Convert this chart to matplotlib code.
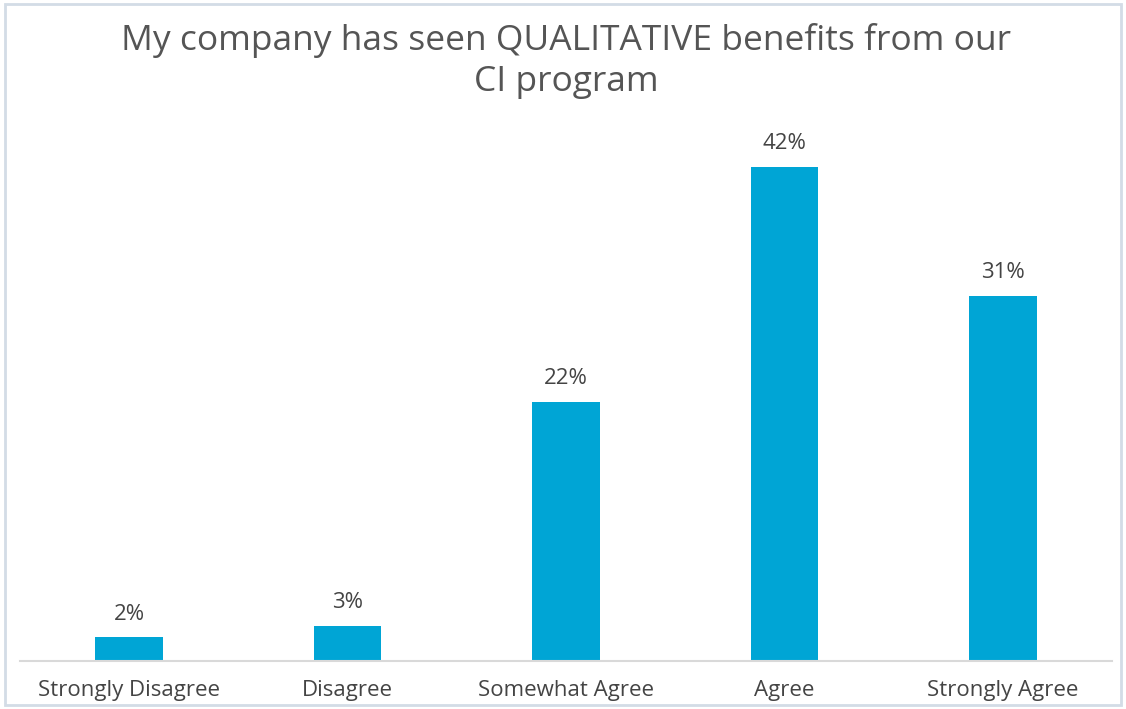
import matplotlib.pyplot as plt
from matplotlib.patches import Rectangle

# survey answers
categories = ['Strongly Disagree', 'Disagree', 'Somewhat Agree', 'Agree', 'Strongly Agree']
percents = [2, 3, 22, 42, 31]
title_text = 'My company has seen QUALITATIVE benefits from our\nCI program'

plt.rcParams['font.family'] = ['Open Sans', 'DejaVu Sans']
text_col = '#444444'
bar_col = '#00A5D5'

fig = plt.figure(figsize=(11.26, 7.09), dpi=100)
ax = fig.add_axes([0.0178, 0.0677, 0.9698, 0.7913])

x = range(len(categories))
bars = ax.bar(x, percents, width=0.31, color=bar_col)

for b, v in zip(bars, percents):
    ax.text(b.get_x() + b.get_width() / 2, v + 1.1, '%d%%' % v,
            ha='center', va='bottom', fontsize=16, color=text_col)

ax.set_xlim(-0.5, len(categories) - 0.5)
ax.set_ylim(0, 47.7)
ax.set_xticks(list(x))
ax.set_xticklabels(categories, fontsize=16, color=text_col)
ax.tick_params(axis='x', length=0, pad=14)
ax.set_yticks([])

for s in ['top', 'right', 'left']:
    ax.spines[s].set_visible(False)
ax.spines['bottom'].set_color('#D9D9D9')
ax.spines['bottom'].set_linewidth(1.5)

fig.text(0.503, 0.967, title_text, ha='center', va='top',
         fontsize=25.5, color='#555555', linespacing=1.24)

# thin frame round the whole chart
fig.patches.append(Rectangle((0.004, 0.006), 0.992, 0.988, transform=fig.transFigure,
                             fill=False, edgecolor='#D3DCE6', linewidth=2))

fig.savefig('out.png', dpi=100)
